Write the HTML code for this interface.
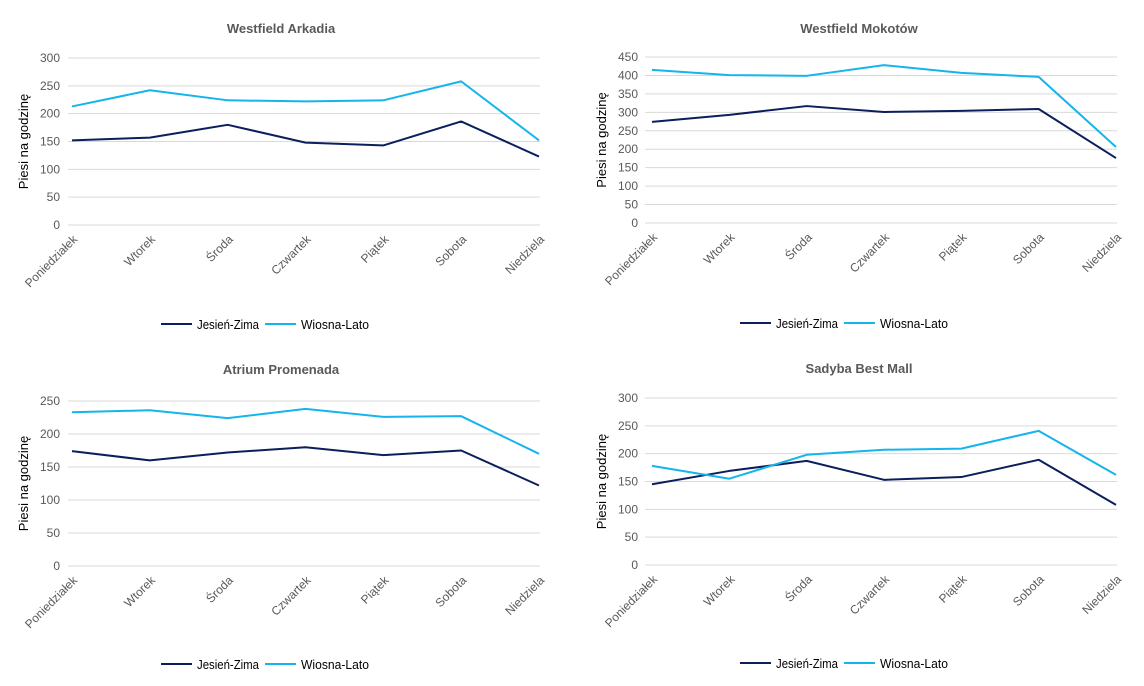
<!DOCTYPE html>
<html><head><meta charset="utf-8"><style>
body{margin:0;background:#fff;}
svg{display:block;font-family:"Liberation Sans",sans-serif;}
</style></head><body>
<svg id="s" width="1144" height="686" xmlns="http://www.w3.org/2000/svg"></svg>
<script>
const days=["Poniedziałek","Wtorek","Środa","Czwartek","Piątek","Sobota","Niedziela"];
const charts=[
 {t:"Westfield Arkadia",tx:281,ty:29,x0:72,x1:539,gx0:68,gx1:540,y0:225,ymax:300,ytop:58,step:50,
  a:[152,157,180,148,143,186,123],b:[213,242,224,222,224,258,152],ly:324,lx:161,ytl:60,yt:28},
 {t:"Westfield Mokotów",tx:859,ty:29,x0:652,x1:1116,gx0:645,gx1:1117,y0:223,ymax:450,ytop:57,step:50,
  a:[274,293,317,301,304,309,176],b:[415,401,399,428,407,396,206],ly:323,lx:740,ytl:638,yt:606},
 {t:"Atrium Promenada",tx:281,ty:370,x0:72,x1:539,gx0:68,gx1:540,y0:566,ymax:250,ytop:401,step:50,
  a:[174,160,172,180,168,175,122],b:[233,236,224,238,226,227,170],ly:664,lx:161,ytl:60,yt:28},
 {t:"Sadyba Best Mall",tx:859,ty:369,x0:652,x1:1116,gx0:645,gx1:1117,y0:565,ymax:300,ytop:398,step:50,
  a:[145,169,187,153,158,189,108],b:[178,155,198,207,209,241,162],ly:663,lx:740,ytl:638,yt:606}
];
let h="";
for(const c of charts){
 const sc=(c.y0-c.ytop)/c.ymax;
 h+=`<text x="${c.tx}" y="${c.ty+4}" text-anchor="middle" font-size="13" font-weight="bold" fill="#595959">${c.t}</text>`;
 for(let v=0;v<=c.ymax;v+=c.step){const y=c.y0-v*sc;
  h+=`<line x1="${c.gx0}" x2="${c.gx1}" y1="${y}" y2="${y}" stroke="#d9d9d9" stroke-width="1"/>`;
  h+=`<text x="${c.ytl}" y="${y+4}" text-anchor="end" font-size="12" fill="#595959">${v}</text>`;}
 const cy=(c.y0+c.ytop)/2;
 h+=`<text transform="translate(${c.yt},${cy}) rotate(-90)" text-anchor="middle" font-size="13" fill="#000">Piesi na godzinę</text>`;
 const dx=(c.x1-c.x0)/6;
 days.forEach((d,i)=>{const x=c.x0+i*dx;
  h+=`<text transform="translate(${x+6},${c.y0+15}) rotate(-45)" text-anchor="end" font-size="12" fill="#595959">${d}</text>`;});
 const pts=arr=>arr.map((v,i)=>`${c.x0+i*dx},${c.y0-v*sc}`).join(" ");
 h+=`<polyline points="${pts(c.a)}" fill="none" stroke="#0a1f5c" stroke-width="2" stroke-linejoin="round"/>`;
 h+=`<polyline points="${pts(c.b)}" fill="none" stroke="#14b4ed" stroke-width="2" stroke-linejoin="round"/>`;
 h+=`<line x1="${c.lx}" x2="${c.lx+31}" y1="${c.ly}" y2="${c.ly}" stroke="#0a1f5c" stroke-width="2"/>`;
 h+=`<text x="${c.lx+36}" y="${c.ly+5}" font-size="13" fill="#000" textLength="62" lengthAdjust="spacingAndGlyphs">Jesień-Zima</text>`;
 h+=`<line x1="${c.lx+104}" x2="${c.lx+135}" y1="${c.ly}" y2="${c.ly}" stroke="#14b4ed" stroke-width="2"/>`;
 h+=`<text x="${c.lx+140}" y="${c.ly+5}" font-size="13" fill="#000" textLength="68" lengthAdjust="spacingAndGlyphs">Wiosna-Lato</text>`;
}
document.getElementById("s").innerHTML=h;
</script>
</body></html>
